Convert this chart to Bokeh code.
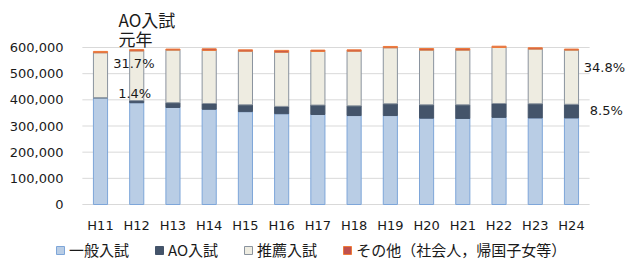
from bokeh.plotting import figure
from bokeh.models import Range1d, Legend, LegendItem
from bokeh.core.properties import value
from bokeh.embed import file_html
from bokeh.resources import INLINE

years = ["H11", "H12", "H13", "H14", "H15", "H16", "H17", "H18", "H19", "H20", "H21", "H22", "H23", "H24"]
ippan = [408000, 389000, 371000, 364000, 355000, 347000, 344000, 340000, 340000, 330000, 329000, 333000, 331000, 331000]
ao = [0, 8000, 18000, 22000, 26000, 28000, 36000, 37000, 45000, 51000, 52000, 53000, 54000, 52000]
suisen = [172000, 190000, 201000, 203000, 205000, 207000, 205000, 209000, 214000, 209000, 209000, 214000, 209000, 207000]
other = [5000, 5000, 4000, 6000, 5000, 7000, 5000, 5000, 5000, 6000, 6000, 5000, 5000, 4000]
y_ticks = [0, 100000, 200000, 300000, 400000, 500000, 600000]
y_tick_labels = ["0", "100,000", "200,000", "300,000", "400,000", "500,000", "600,000"]
series_names = ["一般入試", "AO入試", "推薦入試", "その他（社会人，帰国子女等）"]
note_lines = ["AO入試", "元年"]
pct_labels = ["31.7%", "1.4%", "34.8%", "8.5%"]

NUM_FONT = "DejaVu Sans"
JP_FONT = "Noto Sans CJK JP"
TXT = "#1a1a1a"

xs = list(range(len(years)))
b1 = ippan
b2 = [a + b for a, b in zip(b1, ao)]
b3 = [a + b for a, b in zip(b2, suisen)]
b4 = [a + b for a, b in zip(b3, other)]

# pixel scale of the chart: one category = 36.23 px, 100,000 = 26.17 px
CAT_PX = 36.23
VAL_PER_PX = 3821.7
W, H = 636, 260
X0_PX, Y0_PX = 100, 204  # pixel of first category centre / value zero
x_range = Range1d((0 - X0_PX) / CAT_PX, (W - X0_PX) / CAT_PX)
y_range = Range1d((Y0_PX - H) * VAL_PER_PX, Y0_PX * VAL_PER_PX)

p = figure(width=W, height=H, output_backend="svg", toolbar_location=None,
           x_range=x_range, y_range=y_range, min_border=0)
p.axis.visible = False
p.grid.visible = False
p.outline_line_color = None
p.background_fill_color = "white"
p.border_fill_color = "white"

# gridlines spanning the category area
n = len(years)
p.segment(x0=[-0.5] * len(y_ticks), x1=[n - 0.5] * len(y_ticks), y0=y_ticks, y1=y_ticks,
          line_color="#D9D9D9", line_width=1)

w = 0.39
r1 = p.vbar(x=xs, bottom=0, top=b1, width=w, fill_color="#B9CDE5", line_color="#7EA6D9", line_width=1)
r2 = p.vbar(x=xs, bottom=b1, top=b2, width=w, fill_color="#44546A", line_color="#44546A", line_width=1)
r3 = p.vbar(x=xs, bottom=b2, top=b3, width=w, fill_color="#EEECE1", line_color="#8A939E", line_width=1)
r4 = p.vbar(x=xs, bottom=b3, top=b4, width=w, fill_color="#C0504D", line_color="#EE7B3A", line_width=1)

# y tick labels (right aligned left of the plot area)
ylab_x = (63 - X0_PX) / CAT_PX
p.text(x=[ylab_x] * len(y_ticks), y=y_ticks, text=y_tick_labels, text_align="right",
       text_baseline="middle", text_font=value(NUM_FONT), text_font_size="13px", text_color=TXT)

# x tick labels
xlab_y = (Y0_PX - 225) * VAL_PER_PX
p.text(x=xs, y=[xlab_y] * n, text=years, text_align="center", text_baseline="middle",
       text_font=value(NUM_FONT), text_font_size="13px", text_color=TXT)

# AO入試 元年 note (at H12)
p.text(x=[0.497, 0.497], y=[708900, 632500], text=note_lines, text_align="left",
       text_baseline="middle", text_font=value(JP_FONT), text_font_size="17px", text_color=TXT)

# percentage labels
p.text(x=[0.92, 0.943, 13.91, 13.96], y=[539600, 423400, 522800, 358500], text=pct_labels,
       text_align="center", text_baseline="middle", text_font=value(NUM_FONT),
       text_font_size="13px", text_color=TXT)

legend = Legend(items=[LegendItem(label=series_names[0], renderers=[r1]),
                       LegendItem(label=series_names[1], renderers=[r2]),
                       LegendItem(label=series_names[2], renderers=[r3]),
                       LegendItem(label=series_names[3], renderers=[r4])],
                orientation="horizontal", location=(55, 0),
                glyph_width=10, glyph_height=10, label_standoff=4, spacing=25,
                padding=0, margin=0, border_line_color=None, background_fill_alpha=0,
                label_text_font=JP_FONT, label_text_font_size="15px", label_height=16,
                label_text_color=TXT)
p.add_layout(legend, "center")

open("out.html", "w").write(file_html(p, INLINE))
